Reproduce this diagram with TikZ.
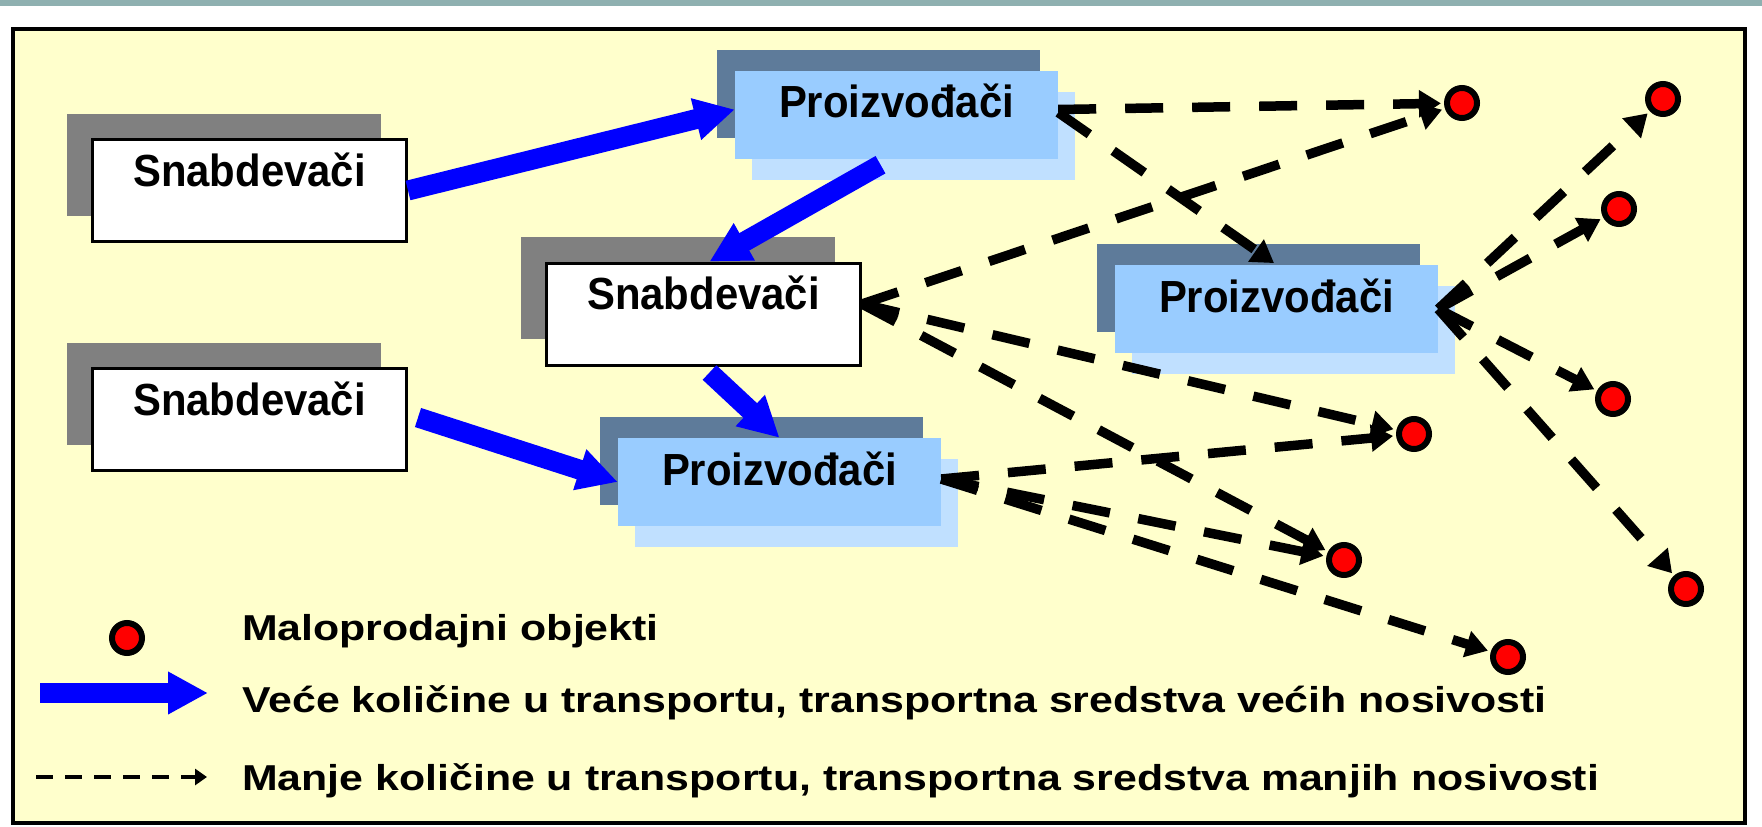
\documentclass[tikz,border=0pt]{standalone}
\usepackage{fontspec}
\setmainfont{Liberation Sans}
\newfontfamily\boxfont[FakeStretch=0.93]{Liberation Sans}
\newfontfamily\legendfont[FakeStretch=1.19]{Liberation Sans}
\usepackage{tikz}
\usetikzlibrary{arrows.meta,shadows,positioning}
\definecolor{strip}{RGB}{143,176,176}
\definecolor{panel}{RGB}{255,255,204}
\definecolor{shadegray}{RGB}{128,128,128}
\definecolor{proizdark}{RGB}{94,123,154}
\definecolor{proizmain}{RGB}{153,204,255}
\definecolor{proizlight}{RGB}{192,224,255}
\tikzset{
  snab/.style={draw=black, line width=3pt, fill=white, minimum width=314pt, minimum height=102pt,
    inner sep=0pt, font=\boxfont\bfseries\fontsize{45}{50}\selectfont, text height=35pt, text depth=44pt,
    general shadow={shadow xshift=-26pt, shadow yshift=26pt, fill=shadegray}},
  proiz/.style={fill=proizmain, minimum width=323pt, minimum height=88pt,
    inner sep=0pt, font=\boxfont\bfseries\fontsize{45}{50}\selectfont, text height=36pt, text depth=30pt,
    general shadow={shadow xshift=-18pt, shadow yshift=21pt, fill=proizdark},
    general shadow={shadow xshift=17pt, shadow yshift=-21pt, fill=proizlight}},
  shop/.style={circle, fill=red, draw=black, line width=6pt, minimum size=30pt, inner sep=0pt},
  bigflow/.style={draw=blue, line width=20pt, -{Triangle[length=40pt,width=40pt]}},
  smallflow/.style={draw=black, line width=9.5pt, dash pattern=on 38pt off 29pt,
    -{Triangle[length=22pt,width=26pt]}, shorten >=3pt},
  legdash/.style={draw=black, line width=4.5pt, dash pattern=on 17pt off 12pt,
    -{Triangle[length=12pt,width=16pt]}},
  legtext/.style={anchor=base west, inner sep=0pt, font=\legendfont\bfseries\fontsize{36}{40}\selectfont}
}
\begin{document}
\begin{tikzpicture}[x=1pt,y=-1pt]
\useasboundingbox (0,0) rectangle (1762,827);
\fill[strip] (0,0) rectangle (1762,6);
\filldraw[fill=panel, draw=black, line width=4.5pt] (13,29) rectangle (1745,823);

% boxes
\node[snab] (s1) at (249.5,190.5) {Snabdevači};
\node[snab] (s2) at (703.5,314) {Snabdevači};
\node[snab] (s3) at (249.5,419.5) {Snabdevači};
\node[proiz] (p1) at (896.5,114.5) {Proizvođači};
\node[proiz] (p2) at (1276.5,309) {Proizvođači};
\node[proiz] (p3) at (779.5,482) {Proizvođači};

% retail points
\foreach \n/\x/\y in {d1/1462/103, d2/1663/99, d3/1619/209, d4/1613/399,
                      d5/1414/434, d6/1344/560, d7/1686/589, d8/1508/657}
  \node[shop] (\n) at (\x,\y) {};

% large flows
\draw[bigflow] (s1.east) -- ([yshift=5pt]p1.west);
\draw[bigflow] ([xshift=-16pt,yshift=-6pt]p1.south) -- ([xshift=6pt]s2.north);
\draw[bigflow] ([xshift=6pt,yshift=-6pt]s2.south) -- (p3.north);
\draw[bigflow] ([xshift=10pt,yshift=2pt]s3.east) -- (p3.west);

% small flows
\draw[smallflow] ([yshift=5pt]p1.east) -- (d1);
\draw[smallflow] ([yshift=2pt]p1.east) -- (p2.north);
\foreach \d in {d1,d5,d6}
  \draw[smallflow] ([yshift=10pt]s2.east) -- (\d);
\foreach \d in {d5,d6,d8}
  \draw[smallflow] ([yshift=3pt]p3.east) -- (\d);
\foreach \d in {d2,d3,d4,d7}
  \draw[smallflow] (p2.east) -- (\d);

% legend
\node[shop] (legdot) at (127,638) {};
\coordinate (bigA) at (40,693);
\coordinate (bigB) at (208,693);
\draw[bigflow] (bigA) -- (bigB);
\coordinate (smallA) at (36,777);
\coordinate (smallB) at (207,777);
\draw[legdash] (smallA) -- (smallB);
\node[legtext] (legshop) at (242,640) {Maloprodajni objekti};
\node[legtext] (legbig) at (242,712) {Veće količine u transportu, transportna sredstva većih nosivosti};
\node[legtext] (legsmall) at (242,790) {Manje količine u transportu, transportna sredstva manjih nosivosti};
\end{tikzpicture}
\end{document}
